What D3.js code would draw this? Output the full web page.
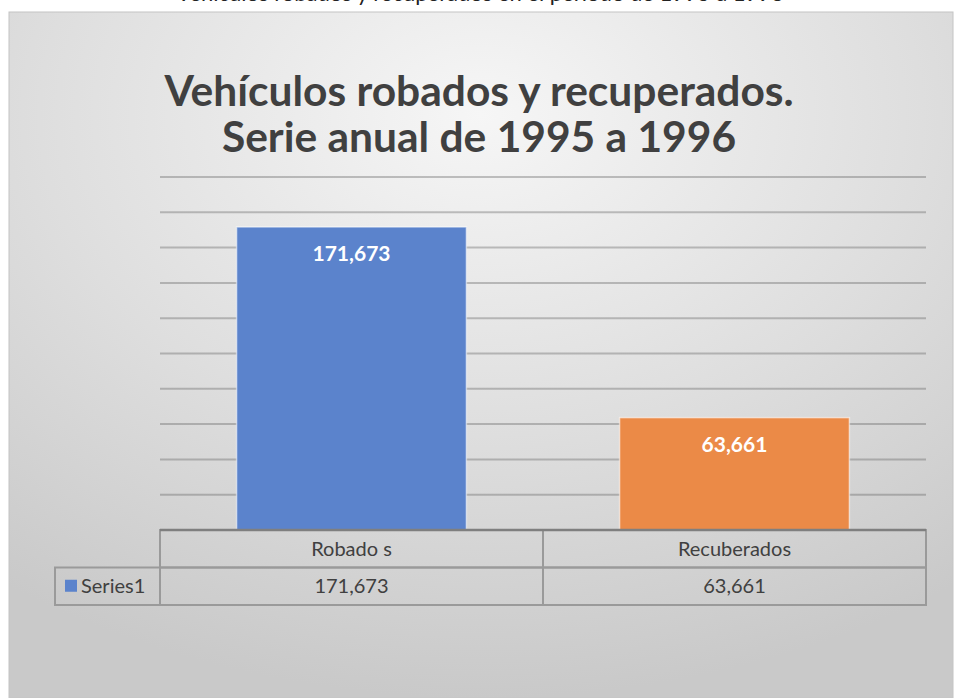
<!DOCTYPE html>
<html>
<head>
<meta charset="utf-8">
<script src="https://cdn.jsdelivr.net/npm/d3@7"></script>
<style>
  body { margin: 0; background: #fff; }
  svg { display: block; }
</style>
</head>
<body>
<div id="container"></div>
<script>
/* DATA */
const categories = ["Robado s", "Recuberados"];
const values = [171673, 63661];
const seriesName = "Series1";
const barColors = ["#5b83cc", "#eb8a47"];
const yTicks = [0, 20000, 40000, 60000, 80000, 100000, 120000, 140000, 160000, 180000, 200000];
const titleLines = ["Vehículos robados y recuperados.", "Serie anual de 1995 a 1996"];
const cutText = "Vehículos robados y recuperados en el periodo de 1995 a 1996";

/* CONSTANTS */
const width = 958, height = 698;
const plot = { left: 160, right: 926, top: 177, bottom: 530 };
const rowH = 37.5;
const legendLeft = 55;
const font = "Lato, 'Open Sans', sans-serif";
const fmt = d3.format(",");

const svg = d3.select("#container")
  .append("svg")
  .attr("width", width)
  .attr("height", height);

// background gradient of the chart frame
const defs = svg.append("defs");
const grad = defs.append("radialGradient")
  .attr("id", "bg")
  .attr("cx", "50%").attr("cy", "15%").attr("r", "85%");
grad.append("stop").attr("offset", "0%").attr("stop-color", "#f6f6f6");
grad.append("stop").attr("offset", "55%").attr("stop-color", "#dedede");
grad.append("stop").attr("offset", "100%").attr("stop-color", "#c9c9c9");

// line of text above the frame, mostly cut off at the top edge (as in the source)
svg.append("text")
  .attr("x", 480).attr("y", 1)
  .attr("text-anchor", "middle")
  .attr("font-family", font)
  .attr("font-size", 22)
  .attr("fill", "#222")
  .text(cutText);

svg.append("rect")
  .attr("x", 9).attr("y", 12)
  .attr("width", 944).attr("height", height - 12)
  .attr("fill", "url(#bg)")
  .attr("stroke", "#c4c4c4")
  .attr("stroke-width", 1);

/* TITLE */
svg.append("g")
  .selectAll("text")
  .data(titleLines)
  .join("text")
  .attr("x", 479)
  .attr("y", (d, i) => 106 + i * 46)
  .attr("text-anchor", "middle")
  .attr("font-family", font)
  .attr("font-weight", "bold")
  .attr("font-size", 42.5)
  .attr("fill", "#404040")
  .text(d => d);

/* SCALES */
const yScale = d3.scaleLinear()
  .domain([0, 200000])
  .range([plot.bottom, plot.top]);

const xScale = d3.scaleBand()
  .domain(categories)
  .range([plot.left, plot.right])
  .paddingInner(0.4)
  .paddingOuter(0.2);

// gridlines
svg.append("g")
  .selectAll("line")
  .data(yTicks.slice(1))
  .join("line")
  .attr("x1", plot.left).attr("x2", plot.right)
  .attr("y1", d => yScale(d)).attr("y2", d => yScale(d))
  .attr("stroke", "rgba(90,90,90,0.35)")
  .attr("stroke-width", 2);

// bars
svg.append("g")
  .selectAll("rect")
  .data(values)
  .join("rect")
  .attr("x", (d, i) => xScale(categories[i]))
  .attr("y", d => yScale(d))
  .attr("width", xScale.bandwidth())
  .attr("height", d => yScale(0) - yScale(d))
  .attr("fill", (d, i) => barColors[i])
  .attr("stroke", "rgba(255,255,255,0.55)")
  .attr("stroke-width", 1.5);

// data labels
svg.append("g")
  .selectAll("text")
  .data(values)
  .join("text")
  .attr("x", (d, i) => xScale(categories[i]) + xScale.bandwidth() / 2)
  .attr("y", d => yScale(d) + 34)
  .attr("text-anchor", "middle")
  .attr("font-family", font)
  .attr("font-weight", "bold")
  .attr("font-size", 21)
  .attr("fill", "#fff")
  .text(d => fmt(d));

/* DATA TABLE */
const step = xScale.step();
const table = svg.append("g")
  .attr("stroke", "#9a9a9a")
  .attr("stroke-width", 2)
  .attr("fill", "none");

categories.forEach((c, i) => {
  const x0 = plot.left + i * step;
  table.append("rect")
    .attr("x", x0).attr("y", plot.bottom)
    .attr("width", step).attr("height", rowH);
  table.append("rect")
    .attr("x", x0).attr("y", plot.bottom + rowH)
    .attr("width", step).attr("height", rowH);
});
table.append("rect")
  .attr("x", legendLeft).attr("y", plot.bottom + rowH)
  .attr("width", plot.left - legendLeft).attr("height", rowH);

// axis line on top of table
svg.append("line")
  .attr("x1", plot.left).attr("x2", plot.right)
  .attr("y1", plot.bottom).attr("y2", plot.bottom)
  .attr("stroke", "#7f7f7f")
  .attr("stroke-width", 2.5);

const cellText = svg.append("g")
  .attr("font-family", font)
  .attr("font-size", 20)
  .attr("fill", "#404040")
  .attr("text-anchor", "middle");

cellText.selectAll(".cat")
  .data(categories)
  .join("text")
  .attr("class", "cat")
  .attr("x", d => plot.left + categories.indexOf(d) * step + step / 2)
  .attr("y", plot.bottom + rowH / 2 + 7)
  .text(d => d);

cellText.selectAll(".val")
  .data(values)
  .join("text")
  .attr("class", "val")
  .attr("x", (d, i) => plot.left + i * step + step / 2)
  .attr("y", plot.bottom + rowH * 1.5 + 7)
  .text(d => fmt(d));

// legend key
svg.append("rect")
  .attr("x", 65).attr("y", plot.bottom + rowH * 1.5 - 6.5)
  .attr("width", 12).attr("height", 12)
  .attr("fill", barColors[0]);

svg.append("text")
  .attr("x", 81).attr("y", plot.bottom + rowH * 1.5 + 7)
  .attr("font-family", font)
  .attr("font-size", 20)
  .attr("fill", "#404040")
  .text(seriesName);
</script>
</body>
</html>
